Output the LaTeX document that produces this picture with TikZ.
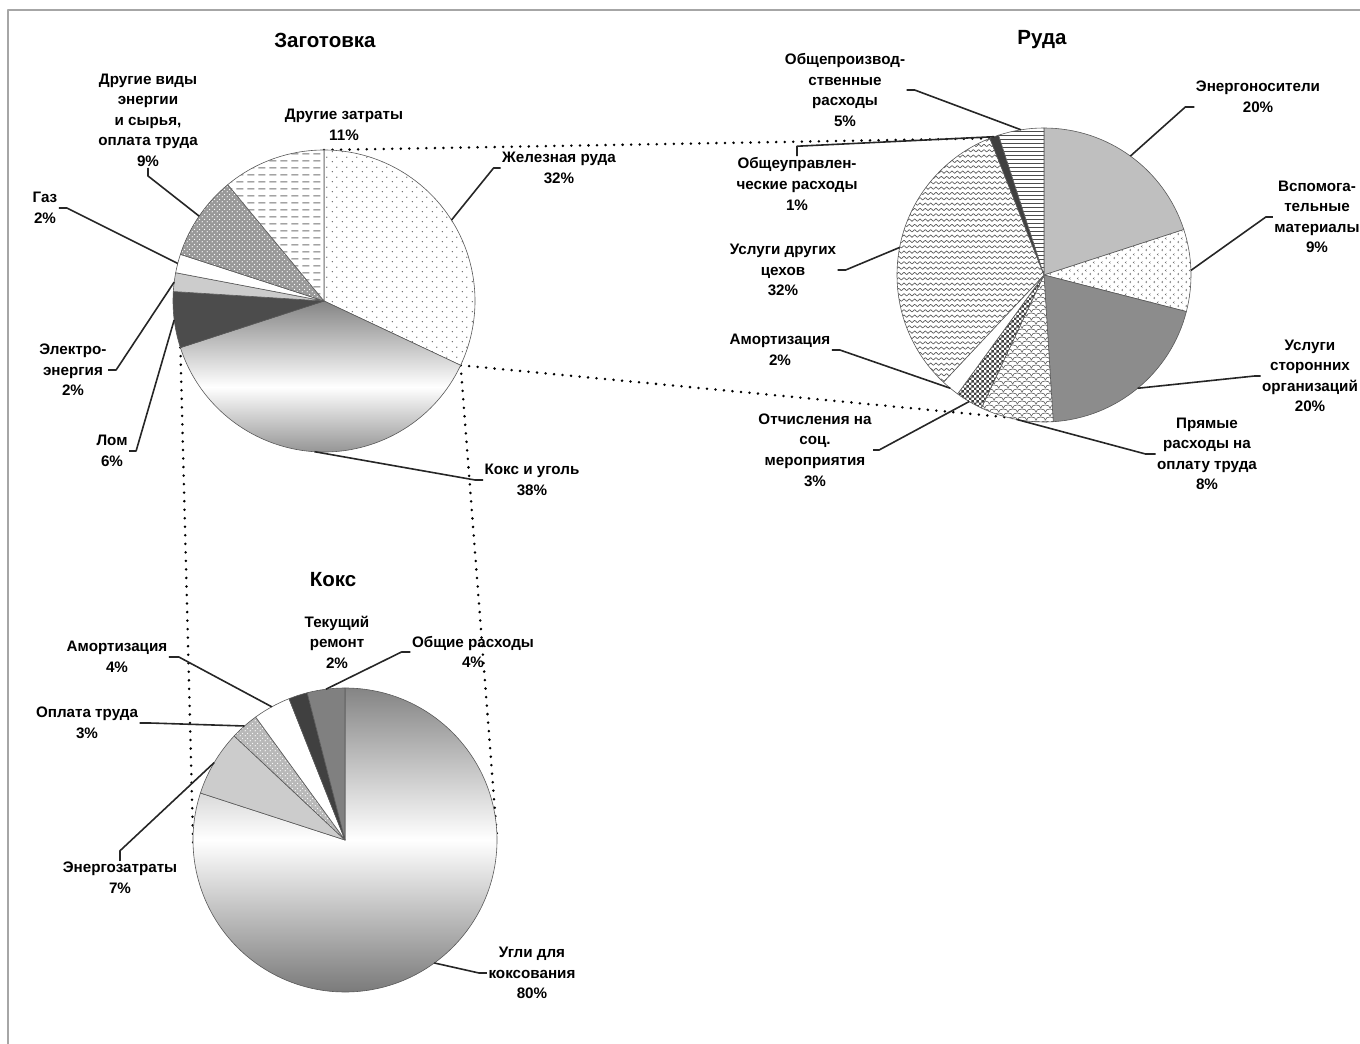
\documentclass[tikz,border=0pt]{standalone}
\usepackage{fontspec}
\setmainfont{Liberation Sans}
\usetikzlibrary{calc,patterns}

% Fill patterns of the pie slices.
\pgfdeclarepatternformonly{sparsedots}{\pgfqpoint{0pt}{0pt}}{\pgfqpoint{7.5pt}{7.5pt}}{\pgfqpoint{7.5pt}{7.5pt}}{%
  \pgfpathcircle{\pgfqpoint{1.9pt}{1.9pt}}{0.6pt}%
  \pgfpathcircle{\pgfqpoint{5.6pt}{5.6pt}}{0.6pt}%
  \pgfusepath{fill}}
\pgfdeclarepatternformonly{whitedots}{\pgfqpoint{0pt}{0pt}}{\pgfqpoint{4pt}{4pt}}{\pgfqpoint{4pt}{4pt}}{%
  \pgfpathcircle{\pgfqpoint{1pt}{1pt}}{0.55pt}%
  \pgfpathcircle{\pgfqpoint{3pt}{3pt}}{0.55pt}%
  \pgfusepath{fill}}
\pgfdeclarepatternformonly{hdashes}{\pgfqpoint{0pt}{0pt}}{\pgfqpoint{8pt}{5pt}}{\pgfqpoint{8pt}{5pt}}{%
  \pgfsetlinewidth{0.7pt}%
  \pgfpathmoveto{\pgfqpoint{1pt}{2.5pt}}%
  \pgfpathlineto{\pgfqpoint{6.5pt}{2.5pt}}%
  \pgfusepath{stroke}}
\pgfdeclarepatternformonly{zigzag}{\pgfqpoint{-0.5pt}{-0.5pt}}{\pgfqpoint{4.5pt}{4.5pt}}{\pgfqpoint{4pt}{4pt}}{%
  \pgfsetlinewidth{0.5pt}%
  \pgfpathmoveto{\pgfqpoint{0pt}{1pt}}%
  \pgfpathlineto{\pgfqpoint{2pt}{2.8pt}}%
  \pgfpathlineto{\pgfqpoint{4pt}{1pt}}%
  \pgfusepath{stroke}}
\pgfdeclarepatternformonly{checker}{\pgfqpoint{0pt}{0pt}}{\pgfqpoint{4pt}{4pt}}{\pgfqpoint{4pt}{4pt}}{%
  \pgfpathrectangle{\pgfqpoint{0pt}{0pt}}{\pgfqpoint{2pt}{2pt}}%
  \pgfpathrectangle{\pgfqpoint{2pt}{2pt}}{\pgfqpoint{2pt}{2pt}}%
  \pgfusepath{fill}}
\pgfdeclarepatternformonly{scales}{\pgfqpoint{-4pt}{-1pt}}{\pgfqpoint{12pt}{7pt}}{\pgfqpoint{7pt}{6pt}}{%
  \pgfsetlinewidth{0.45pt}%
  \pgfpathmoveto{\pgfqpoint{0pt}{0pt}}%
  \pgfpathcurveto{\pgfqpoint{0pt}{3pt}}{\pgfqpoint{7pt}{3pt}}{\pgfqpoint{7pt}{0pt}}%
  \pgfpathmoveto{\pgfqpoint{3.5pt}{3pt}}%
  \pgfpathcurveto{\pgfqpoint{3.5pt}{6pt}}{\pgfqpoint{10.5pt}{6pt}}{\pgfqpoint{10.5pt}{3pt}}%
  \pgfusepath{stroke}}
\pgfdeclarepatternformonly{chevrons}{\pgfqpoint{0pt}{0pt}}{\pgfqpoint{6pt}{6pt}}{\pgfqpoint{6pt}{6pt}}{%
  \pgfsetlinewidth{0.4pt}%
  \pgfpathmoveto{\pgfqpoint{2.4pt}{0.8pt}}%
  \pgfpathlineto{\pgfqpoint{1.4pt}{1.6pt}}%
  \pgfpathlineto{\pgfqpoint{2.4pt}{2.4pt}}%
  \pgfpathmoveto{\pgfqpoint{5.4pt}{3.8pt}}%
  \pgfpathlineto{\pgfqpoint{4.4pt}{4.6pt}}%
  \pgfpathlineto{\pgfqpoint{5.4pt}{5.4pt}}%
  \pgfusepath{stroke}}

\tikzset{every picture/.style={
  line join=round               % Smooth corners of the slices.
  }
}

\begin{document}
\begin{tikzpicture}[
    x=0.75pt, y=0.75pt,
    slice/.style={
      draw=black!65,
      line width=0.45pt
    },
    % Pie "Заготовка".
    ironpart/.style={preaction={fill=white}, pattern=sparsedots, pattern color=black!60},
    cokepart/.style={top color=black!48, bottom color=black!55, middle color=white},
    scrappart/.style={fill=black!70},
    elecpart/.style={fill=black!20},
    gaspart/.style={fill=white},
    mixpart/.style={preaction={fill=black!40}, pattern=whitedots, pattern color=white},
    otherpart/.style={preaction={fill=white}, pattern=hdashes, pattern color=black!55},
    % Pie "Руда".
    enerpart/.style={fill=black!25},
    auxpart/.style={preaction={fill=white}, pattern=chevrons, pattern color=black!55},
    extpart/.style={fill=black!45},
    laborpart/.style={preaction={fill=white}, pattern=scales, pattern color=black!65},
    socpart/.style={preaction={fill=white}, pattern=checker, pattern color=black!75},
    amortpart/.style={fill=white},
    shoppart/.style={preaction={fill=white}, pattern=zigzag, pattern color=black!65},
    mgmtpart/.style={fill=black!75},
    prodpart/.style={preaction={fill=white}, pattern=horizontal lines, pattern color=black!70},
    % Pie "Кокс".
    coalpart/.style={top color=black!48, bottom color=black!52, middle color=white},
    kenerpart/.style={fill=black!20},
    paypart/.style={preaction={fill=black!28}, pattern=whitedots, pattern color=white},
    kamortpart/.style={fill=white},
    repairpart/.style={fill=black!75},
    generalpart/.style={fill=black!50},
    lbl/.style={
      align=center,
      inner sep=1pt,
      font=\bfseries\fontsize{11.4}{15.4}\selectfont
    },
    ttl/.style={font=\bfseries\fontsize{15.4}{18}\selectfont},
    leader/.style={draw=black!85, line width=1.2pt},
    zoomline/.style={
      black,
      line width=2.1pt,
      line cap=round,
      dash pattern=on 0pt off 6.4pt
    }]

    \useasboundingbox (0,0) rectangle (1360,-1044);
    \draw[black!35, line width=1.2pt] (8,-1044) -- (8,-10) -- (1360,-10);

    % Centres of the three pies.
    \coordinate (zag)  at (324,-301);
    \coordinate (ruda) at (1044,-275);
    \coordinate (koks) at (345,-840);

    % Ends of the zoom lines.
    \path (zag) ++(90:151)     coordinate (zTop);
    \path (zag) ++(-25.2:151)  coordinate (zMid);
    \path (zag) ++(-162:151)   coordinate (zLow);
    \path (ruda) ++(111.6:147) coordinate (rTop);
    \path (ruda) ++(-86.4:147) coordinate (rLow);
    \path (koks) ++(184:152)   coordinate (kLeft);
    \path (koks) ++(1:152)     coordinate (kRight);

    \draw[zoomline] (zTop) -- (rTop);
    \draw[zoomline] (zMid) -- (rLow);
    \draw[zoomline] (zLow) -- (kLeft);
    \draw[zoomline] (zMid) -- (kRight);

    % Slices.
    \foreach \a/\b/\s in {90/-25.2/ironpart, -25.2/-162/cokepart,
        -162/-183.6/scrappart, -183.6/-190.8/elecpart, -190.8/-198/gaspart,
        -198/-230.4/mixpart, -230.4/-270/otherpart}
      \draw[slice,\s] (zag) -- ++(\a:151)
        arc[start angle=\a, end angle=\b, radius=151] -- cycle;
    \foreach \a/\b/\s in {90/18/enerpart, 18/-14.4/auxpart,
        -14.4/-86.4/extpart, -86.4/-115.2/laborpart, -115.2/-126/socpart,
        -126/-133.2/amortpart, -133.2/-248.4/shoppart,
        -248.4/-252/mgmtpart, -252/-270/prodpart}
      \draw[slice,\s] (ruda) -- ++(\a:147)
        arc[start angle=\a, end angle=\b, radius=147] -- cycle;
    \foreach \a/\b/\s in {90/-198/coalpart, -198/-223.2/kenerpart,
        -223.2/-234/paypart, -234/-248.4/kamortpart,
        -248.4/-255.6/repairpart, -255.6/-270/generalpart}
      \draw[slice,\s] (koks) -- ++(\a:152)
        arc[start angle=\a, end angle=\b, radius=152] -- cycle;

    % Points on the rims where the leaders start.
    \foreach \n/\a in {eIron/32.4, eCoke/-93.6, eScrap/187.2, eElec/172.8,
        eGas/165.6, eMix/145.8}
      \path (zag) ++(\a:151) coordinate (\n);
    \foreach \n/\a in {eEner/54, eAux/1.8, eExt/-50.4, eLabor/-100.8,
        eSoc/-120.6, eAmort/-129.6, eShop/169.2, eMgmt/109.8, eProd/99}
      \path (ruda) ++(\a:147) coordinate (\n);
    \foreach \n/\a in {eCoal/-54, eKener/149.4, ePay/131.4, eKamort/118.8,
        eGeneral/97.2}
      \path (koks) ++(\a:152) coordinate (\n);

    % Titles.
    \node[ttl] (tZag)  at (325,-40)  {Заготовка};
    \node[ttl] (tRuda) at (1042,-40) {Руда};
    \node[ttl] (tKoks) at (333,-580) {Кокс};

    % Labels of "Заготовка".
    \node[lbl] (lMix)   at (148,-120) {Другие виды\\энергии\\и сырья,\\оплата труда\\9\%};
    \node[lbl] (lOther) at (344,-125) {Другие затраты\\11\%};
    \node[lbl] (lIron)  at (559,-168) {Железная руда\\32\%};
    \node[lbl] (lGas)   at (45,-208)  {Газ\\2\%};
    \node[lbl] (lElec)  at (73,-370)  {Электро-\\энергия\\2\%};
    \node[lbl] (lScrap) at (112,-451) {Лом\\6\%};
    \node[lbl] (lCoke)  at (532,-480) {Кокс и уголь\\38\%};

    % Labels of "Руда".
    \node[lbl] (lProd)  at (845,-90)   {Общепроизвод-\\ственные\\расходы\\5\%};
    \node[lbl] (lMgmt)  at (797,-184)  {Общеуправлен-\\ческие расходы\\1\%};
    \node[lbl] (lShop)  at (783,-270)  {Услуги других\\цехов\\32\%};
    \node[lbl] (lAmort) at (780,-350)  {Амортизация\\2\%};
    \node[lbl] (lSoc)   at (815,-450)  {Отчисления на\\соц.\\мероприятия\\3\%};
    \node[lbl] (lEner)  at (1258,-97)  {Энергоносители\\20\%};
    \node[lbl] (lAux)   at (1317,-217) {Вспомога-\\тельные\\материалы\\9\%};
    \node[lbl] (lExt)   at (1310,-376) {Услуги\\сторонних\\организаций\\20\%};
    \node[lbl] (lLabor) at (1207,-454) {Прямые\\расходы на\\оплату труда\\8\%};

    % Labels of "Кокс".
    \node[lbl] (lRepair)  at (337,-642) {Текущий\\ремонт\\2\%};
    \node[lbl] (lGeneral) at (473,-652) {Общие расходы\\4\%};
    \node[lbl] (lKamort)  at (117,-657) {Амортизация\\4\%};
    \node[lbl] (lPay)     at (87,-723)  {Оплата труда\\3\%};
    \node[lbl] (lKener)   at (120,-878) {Энергозатраты\\7\%};
    \node[lbl] (lCoal)    at (532,-973) {Угли для\\коксования\\80\%};

    % Leaders of "Заготовка".
    \draw[leader] (eIron)  -- ($(lIron.west)+(-7,0)$)   -- (lIron.west);
    \draw[leader] (eCoke)  -- ($(lCoke.west)+(-8,0)$)   -- (lCoke.west);
    \draw[leader] (eMix)   -- ($(lMix.south)+(0,-8)$)   -- (lMix.south);
    \draw[leader] (eGas)   -- ($(lGas.east)+(8,0)$)     -- (lGas.east);
    \draw[leader] (eElec)  -- ($(lElec.east)+(8,0)$)    -- (lElec.east);
    \draw[leader] (eScrap) -- ($(lScrap.east)+(7,0)$)   -- (lScrap.east);

    % Leaders of "Руда".
    \draw[leader] (eProd)  -- ($(lProd.east)+(8,0)$)    -- (lProd.east);
    \draw[leader] (eMgmt)  -- ($(lMgmt.north)+(0,10)$)  -- (lMgmt.north);
    \draw[leader] (eShop)  -- ($(lShop.east)+(8,0)$)    -- (lShop.east);
    \draw[leader] (eAmort) -- ($(lAmort.east)+(8,0)$)   -- (lAmort.east);
    \draw[leader] (eSoc)   -- ($(lSoc.east)+(6,0)$)     -- (lSoc.east);
    \draw[leader] (eEner)  -- ($(lEner.west)+(-9,-10)$) -- ($(lEner.west)+(0,-10)$);
    \draw[leader] (eAux)   -- ($(lAux.west)+(-7,0)$)    -- (lAux.west);
    \draw[leader] (eExt)   -- ($(lExt.west)+(-6,0)$)    -- (lExt.west);
    \draw[leader] (eLabor) -- ($(lLabor.west)+(-10,0)$) -- (lLabor.west);

    % Leaders of "Кокс".
    \draw[leader] (eGeneral) -- ($(lGeneral.west)+(-9,0)$) -- (lGeneral.west);
    \draw[leader] (eKamort)  -- ($(lKamort.east)+(10,0)$)  -- (lKamort.east);
    \draw[leader] (ePay)     -- ($(lPay.east)+(10,0)$)     -- (lPay.east);
    \draw[leader] (eKener)   -- ($(lKener.north)+(0,10)$)  -- (lKener.north);
    \draw[leader] (eCoal)    -- ($(lCoal.west)+(-8,0)$)    -- (lCoal.west);
  \end{tikzpicture}
\end{document}
